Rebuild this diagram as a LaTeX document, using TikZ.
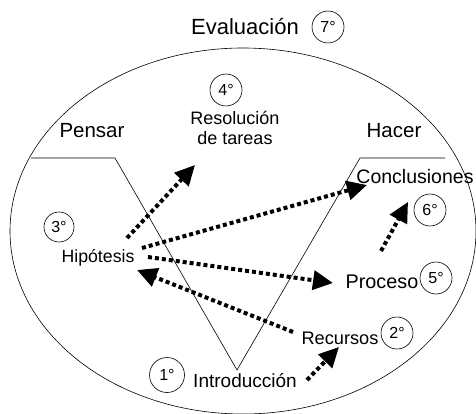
\documentclass[tikz,border=0pt]{standalone}
\usepackage{fontspec}
\setmainfont{Liberation Sans}
\usetikzlibrary{arrows.meta}
\begin{document}
\begin{tikzpicture}[x=1pt,y=-1pt,
  txt/.style={inner sep=0pt},
  num/.style={draw, circle, minimum size=32pt, inner sep=0pt, line width=0.6pt, font=\fontsize{16}{18}\selectfont},
  dotarrow/.style={line width=4pt, dash pattern=on 4pt off 3pt, -{Triangle[length=20pt,width=19pt]}}
]
\useasboundingbox (0,0) rectangle (476,414);
% ellipse
\draw[line width=0.6pt] (243,231) ellipse [x radius=233, y radius=183];
% V shape
\draw[line width=0.6pt] (31,158) -- (115,158) -- (237,370) -- (360,158) -- (445,158);
% texts
\node[txt, font=\fontsize{22}{26}\selectfont] (eval) at (245,27) {Evaluación};
\node[num] (n7) at (328,27) {7°};
\node[num] (n4) at (226,90) {4°};
\node[txt, align=center, font=\fontsize{18}{20.5}\selectfont] (res) at (235,128) {Resolución\\de tareas};
\node[txt, font=\fontsize{20.5}{24}\selectfont] (pensar) at (92,131) {Pensar};
\node[txt, font=\fontsize{20.5}{24}\selectfont] (hacer) at (394,131) {Hacer};
\node[txt, font=\fontsize{19.5}{22}\selectfont] (concl) at (415,177) {Conclusiones};
\node[num] (n6) at (430,210) {6°};
\node[num, minimum size=30pt] (n3) at (59,227) {3°};
\node[txt, font=\fontsize{17.7}{20}\selectfont] (hip) at (98,258) {Hipótesis};
\node[txt, font=\fontsize{19.8}{22}\selectfont] (proc) at (382,282) {Proceso};
\node[num] (n5) at (436,278) {5°};
\node[txt, font=\fontsize{18.2}{21}\selectfont] (rec) at (340,338) {Recursos};
\node[num] (n2) at (397,333) {2°};
\node[txt, font=\fontsize{19}{22}\selectfont] (intro) at (245,381) {Introducción};
\node[num, minimum size=35pt] (n1) at (167,375) {1°};
% arrow end points
\coordinate (a1s) at (127,238); \coordinate (a1e) at (195,165);
\coordinate (a2s) at (142,248); \coordinate (a2e) at (367,185);
\coordinate (a3s) at (148,257); \coordinate (a3e) at (333,283);
\coordinate (a4s) at (293,332); \coordinate (a4e) at (137,270);
\coordinate (a5s) at (307,380); \coordinate (a5e) at (339,347);
\coordinate (a6s) at (381,251); \coordinate (a6e) at (408,202);
\draw[dotarrow] (a1s) -- (a1e);
\draw[dotarrow] (a2s) -- (a2e);
\draw[dotarrow] (a3s) -- (a3e);
\draw[dotarrow] (a4s) -- (a4e);
\draw[dotarrow] (a5s) -- (a5e);
\draw[dotarrow] (a6s) -- (a6e);
\end{tikzpicture}
\end{document}
